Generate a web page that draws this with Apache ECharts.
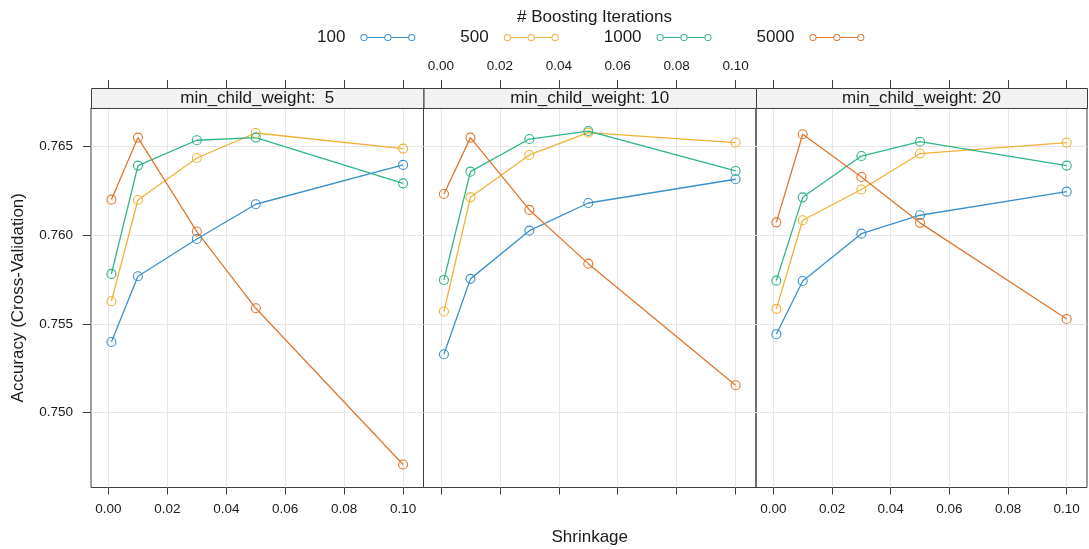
<!DOCTYPE html>
<html>
<head>
<meta charset="utf-8">
<script src="https://cdn.jsdelivr.net/npm/echarts@6/dist/echarts.min.js"></script>
<style>
html,body{margin:0;padding:0;background:#fff;}
#chart{width:1089px;height:549px;}
</style>
</head>
<body>
<div id="chart"></div>
<script>
// ---- data ----
const shrinkage = [0.001, 0.01, 0.03, 0.05, 0.1];
const iterations = ['100', '500', '1000', '5000'];
const panelLabels = ['min_child_weight:  5', 'min_child_weight: 10', 'min_child_weight: 20'];
const xTicks = [0, 0.02, 0.04, 0.06, 0.08, 0.10];
const yTicks = [0.750, 0.755, 0.760, 0.765];

const acc5_100  = [0.75398, 0.75769, 0.75979, 0.76175, 0.76397];
const acc5_500  = [0.75628, 0.76199, 0.76436, 0.76577, 0.76489];
const acc5_1000 = [0.75782, 0.76393, 0.76536, 0.76551, 0.76293];
const acc5_5000 = [0.76201, 0.76551, 0.76021, 0.75588, 0.74707];

const acc10_100  = [0.75329, 0.75754, 0.76026, 0.76182, 0.76316];
const acc10_500  = [0.75570, 0.76214, 0.76453, 0.76579, 0.76523];
const acc10_1000 = [0.75748, 0.76359, 0.76543, 0.76588, 0.76363];
const acc10_5000 = [0.76233, 0.76551, 0.76143, 0.75840, 0.75154];

const acc20_100  = [0.75442, 0.75742, 0.76009, 0.76113, 0.76246];
const acc20_500  = [0.75585, 0.76085, 0.76258, 0.76461, 0.76523];
const acc20_1000 = [0.75744, 0.76214, 0.76447, 0.76528, 0.76393];
const acc20_5000 = [0.76073, 0.76570, 0.76329, 0.76070, 0.75528];

const panels = [
  [acc5_100, acc5_500, acc5_1000, acc5_5000],
  [acc10_100, acc10_500, acc10_1000, acc10_5000],
  [acc20_100, acc20_500, acc20_1000, acc20_5000]
];

// ---- styling / layout ----
const colors = ['#3b8fcb', '#f0b134', '#2fb38a', '#e0762f'];
const FONT = '"Liberation Sans", Arial, Helvetica, sans-serif';
const PL = [91, 423.5, 756];
const PW = [332.5, 332.5, 331];
const PTOP = 108, PH = 379.5, STRIP = 20;
const XMIN = -0.00593, XMAX = 0.10693;
const YMIN = 0.74577, YMAX = 0.76718;
const BORDER = '#3d3d3d';
const GRIDC = '#e6e6e6';

const grids = [], xAxes = [], yAxes = [], series = [], graphics = [];
for (let p = 0; p < 3; p++) {
  grids.push({left: PL[p], top: PTOP, width: PW[p], height: PH, show: true,
    outerBoundsMode: 'none', containLabel: false,
    borderColor: BORDER, borderWidth: 1, backgroundColor: 'transparent'});
  // bottom axis
  xAxes.push({
    type: 'value', gridIndex: p, position: 'bottom', min: XMIN, max: XMAX,
    name: p === 1 ? 'Shrinkage' : '', nameLocation: 'middle', nameGap: 41,
    nameTextStyle: {fontFamily: FONT, fontSize: 17, color: '#1a1a1a'},
    axisLine: {show: false, onZero: false},
    axisTick: {show: true, length: 7, inside: false, customValues: xTicks, lineStyle: {color: BORDER, width: 1}},
    axisLabel: {show: p !== 1, customValues: xTicks, margin: 15, fontFamily: FONT, fontSize: 13.5, color: '#1a1a1a',
      formatter: v => v.toFixed(2)},
    splitLine: {show: true, lineStyle: {color: GRIDC, width: 1}}
  });
  // top axis (above strip)
  xAxes.push({
    type: 'value', gridIndex: p, position: 'top', offset: STRIP, min: XMIN, max: XMAX,
    axisLine: {show: false, onZero: false},
    axisTick: {show: true, length: 8, inside: false, customValues: xTicks, lineStyle: {color: BORDER, width: 1}},
    axisLabel: {show: p === 1, customValues: xTicks, margin: 15, fontFamily: FONT, fontSize: 13.5, color: '#1a1a1a',
      formatter: v => v.toFixed(2)},
    splitLine: {show: false}
  });
  yAxes.push({
    type: 'value', gridIndex: p, position: 'left', min: YMIN, max: YMAX,
    name: p === 0 ? 'Accuracy (Cross-Validation)' : '', nameLocation: 'middle', nameGap: 64,
    nameTextStyle: {fontFamily: FONT, fontSize: 17, color: '#1a1a1a'},
    axisLine: {show: false, onZero: false},
    axisTick: {show: p === 0, length: 8, inside: false, customValues: yTicks, lineStyle: {color: BORDER, width: 1}},
    axisLabel: {show: p === 0, customValues: yTicks, margin: 18, fontFamily: FONT, fontSize: 13.5, color: '#1a1a1a',
      formatter: v => v.toFixed(3)},
    splitLine: {show: true, lineStyle: {color: GRIDC, width: 1}}
  });
  for (let s = 0; s < 4; s++) {
    series.push({
      type: 'line', name: iterations[s], xAxisIndex: p * 2, yAxisIndex: p,
      data: shrinkage.map((x, i) => [x, panels[p][s][i]]),
      symbol: 'circle', symbolSize: 9, color: colors[s],
      lineStyle: {width: 1.3, color: colors[s]},
      itemStyle: {color: 'rgba(255,255,255,0)', borderColor: colors[s], borderWidth: 1.1},
      emphasis: {disabled: true}, z: 3
    });
  }
  // strip
  graphics.push({
    type: 'rect', left: PL[p], top: PTOP - STRIP, z: 10,
    shape: {x: 0, y: 0, width: PW[p], height: STRIP},
    style: {fill: '#f2f2f2', stroke: BORDER, lineWidth: 1}
  });
  graphics.push({
    type: 'text', x: PL[p] + PW[p] / 2, y: PTOP - STRIP / 2, z: 11,
    style: {text: panelLabels[p], fontFamily: FONT, fontSize: 17, fill: '#1a1a1a',
      textAlign: 'center', textVerticalAlign: 'middle'}
  });
}

// legend icon: line with three hollow circles
function ring(cx, cy, r, ri) {
  return `M${cx - r},${cy} A${r},${r} 0 1,1 ${cx + r},${cy} A${r},${r} 0 1,1 ${cx - r},${cy} Z ` +
         `M${cx - ri},${cy} A${ri},${ri} 0 1,0 ${cx + ri},${cy} A${ri},${ri} 0 1,0 ${cx - ri},${cy} Z `;
}
const R = 3.6, RI = 2.6, CY = 3.6;
const legendIcon = 'path://' + ring(3.6, CY, R, RI) + ring(27.5, CY, R, RI) + ring(51.4, CY, R, RI) +
  `M7.2,3.0 L23.9,3.0 L23.9,4.2 L7.2,4.2 Z M31.1,3.0 L47.8,3.0 L47.8,4.2 L31.1,4.2 Z`;

const option = {
  animation: false,
  backgroundColor: '#ffffff',
  title: {text: '# Boosting Iterations', left: 512, top: 4,
    textStyle: {fontFamily: FONT, fontSize: 17, fontWeight: 'normal', color: '#1a1a1a'}},
  legend: {
    data: iterations.map((n, i) => ({name: n, itemStyle: {color: colors[i], borderWidth: 0}})),
    left: 312, top: 24, align: 'right', itemGap: 45,
    itemWidth: 55, itemHeight: 7.2, icon: legendIcon,
    itemStyle: {borderWidth: 0},
    textStyle: {fontFamily: FONT, fontSize: 17, color: '#1a1a1a', padding: [0, 10, 0, 0]},
    selectedMode: false
  },
  grid: grids, xAxis: xAxes, yAxis: yAxes, series: series, graphic: graphics
};

const chart = echarts.init(document.getElementById('chart'), null, {renderer: 'canvas'});
chart.setOption(option);
</script>
</body>
</html>
